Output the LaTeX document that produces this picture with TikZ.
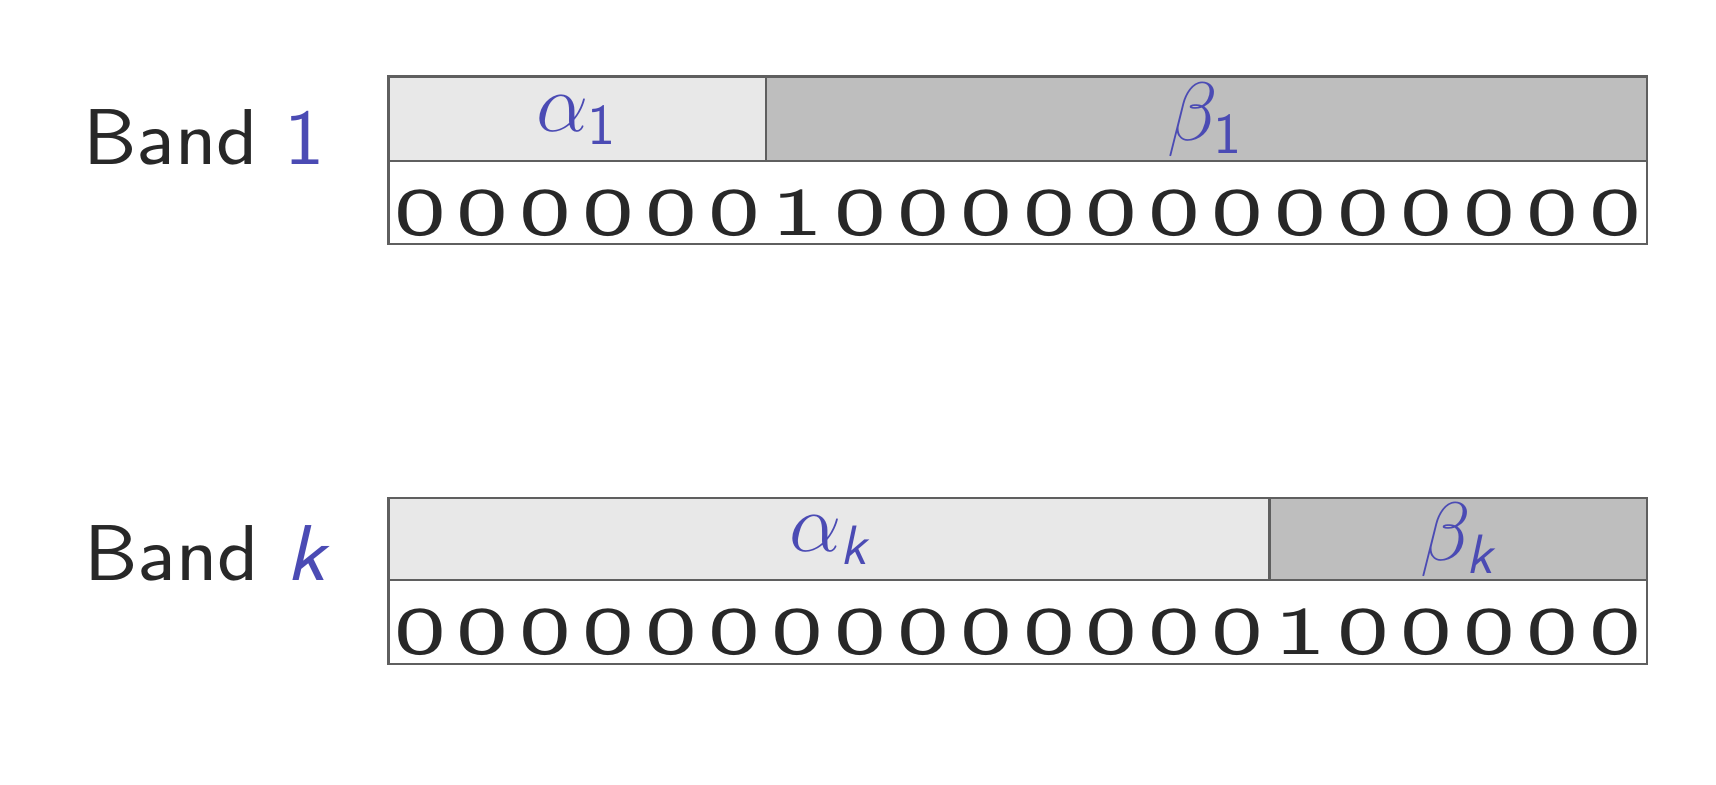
\documentclass[tikz,border=0pt]{standalone}
\usepackage{amsmath}
\usepackage{graphicx}
\usepackage{tikz}
\usetikzlibrary{positioning}
\definecolor{bandblue}{RGB}{75,75,180}
\definecolor{bandtext}{RGB}{40,40,40}
\definecolor{alphagray}{RGB}{232,232,232}
\definecolor{betagray}{RGB}{190,190,190}
\definecolor{edgegray}{RGB}{95,95,95}
\newcommand{\bitglyph}[1]{\scalebox{1.62}[1]{#1}}
\newcommand{\bandwide}[1]{\scalebox{1.08}[1]{#1}}
\newcommand{\sfk}{\text{\sffamily\itshape k}}

\begin{document}
\begin{tikzpicture}[x=0.25pt, y=-0.25pt,
  bandlabel/.style={font=\sffamily\fontsize{19.8}{24}\selectfont, text=bandtext, anchor=base east, inner sep=0pt},
  partlabel/.style={font=\fontsize{19.8}{24}\selectfont, text=bandblue, inner sep=0pt},
  part/.style={draw=edgegray, line width=0.6pt},
  bit/.style={font=\sffamily\fontsize{17}{20}\selectfont, text=bandtext, anchor=base, inner sep=0pt}]
\useasboundingbox (0,0) rectangle (1716,784);

\draw[part, fill=alphagray] (388.5,76.6) rectangle (766,160.9);
\draw[part, fill=betagray] (766,76.6) rectangle (1647,160.9);
\draw[part, fill=white] (388.5,160.9) rectangle (1647,244);

\draw[part, fill=alphagray] (388.5,498) rectangle (1269.5,580);
\draw[part, fill=betagray] (1269.5,498) rectangle (1647,580);
\draw[part, fill=white] (388.5,580) rectangle (1647,664);

\node[bandlabel] (band1) at (326,164) {\bandwide{Band \textcolor{bandblue}{1}}};
\node[bandlabel] (bandk) at (326,580) {\bandwide{Band \textcolor{bandblue}{\itshape k}}};

\node[partlabel] (alpha1) at (577,120) {$\alpha_{\mathsf{1}}$};
\node[partlabel] (beta1) at (1206,120) {$\beta_{\mathsf{1}}$};
\node[partlabel] (alphak) at (829,540) {$\alpha_{\sfk}$};
\node[partlabel] (betak) at (1458,540) {$\beta_{\sfk}$};

\foreach \b [count=\i] in {0,0,0,0,0,0,1,0,0,0,0,0,0,0,0,0,0,0,0,0}
  \node[bit] (bit1-\i) at (388.5+62.9*\i-31.45,235) {\bitglyph{\b}};
\foreach \b [count=\i] in {0,0,0,0,0,0,0,0,0,0,0,0,0,0,1,0,0,0,0,0}
  \node[bit] (bitk-\i) at (388.5+62.9*\i-31.45,654.5) {\bitglyph{\b}};
\end{tikzpicture}
\end{document}
